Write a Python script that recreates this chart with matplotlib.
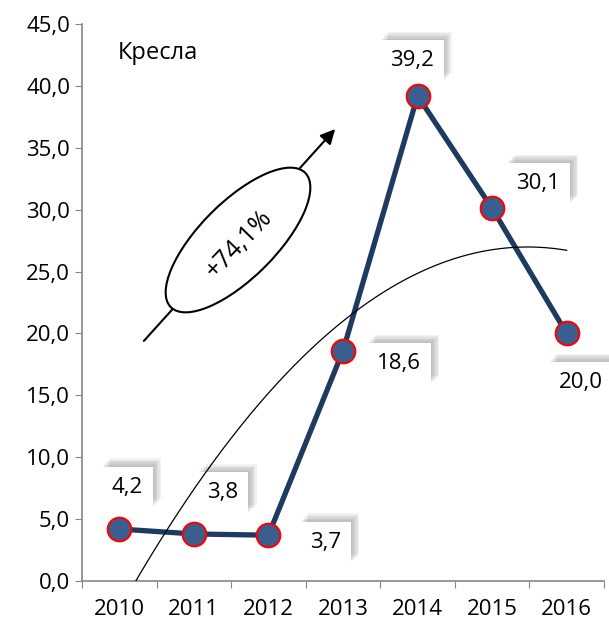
import numpy as np
import matplotlib.pyplot as plt
from matplotlib.patches import Ellipse
from matplotlib.transforms import Affine2D
import matplotlib.patheffects as pe

plt.rcParams['font.family'] = ['Open Sans', 'DejaVu Sans']

years = ['2010', '2011', '2012', '2013', '2014', '2015', '2016']
values = [4.2, 3.8, 3.7, 18.6, 39.2, 30.1, 20.0]
labels = ['4,2', '3,8', '3,7', '18,6', '39,2', '30,1', '20,0']
# смещения подписей от маркера, пиксели (x вправо, y вверх)
label_offsets = [(8, 42), (29, 41), (57, -7), (56, -13), (-6, 35), (46, 25), (14, -49)]

W, H = 609, 626
fig = plt.figure(figsize=(W / 100, H / 100), dpi=100)
ax = fig.add_axes([82 / W, 1 - 581 / H, (604 - 82) / W, (581 - 24) / H])

x = np.arange(1, len(years) + 1)

ax.plot(x, values, color='#1F3A60', lw=3.8, zorder=3,
        marker='o', markersize=17, markerfacecolor='#3A5F8F',
        markeredgecolor='red', markeredgewidth=1.5)

# мягкая тень: несколько полупрозрачных слоёв
shadow = [pe.SimplePatchShadow(offset=(k, k), shadow_rgbFace='#707070', alpha=0.09)
          for k in (1, 2, 3, 4, 5, 6)] + [pe.Normal()]

for xi, yi, lab, off in zip(x, values, labels, label_offsets):
    t = ax.annotate(lab, (xi, yi), xytext=off, textcoords='offset pixels',
                    ha='center', va='center', fontsize=16, zorder=4,
                    bbox=dict(boxstyle='square,pad=0.45', fc='white', ec='none'))
    t.get_bbox_patch().set_path_effects(shadow)

# полиномиальный тренд 2-й степени
coef = np.polyfit(x, values, 2)
xt = np.linspace(1, 7, 200)
ax.plot(xt, np.polyval(coef, xt), color='black', lw=0.9, zorder=5)

ax.set_xlim(0.5, 7.5)
ax.set_ylim(0, 45)
ax.set_yticks(np.arange(0, 46, 5))
ax.set_yticklabels([f'{v:.1f}'.replace('.', ',') for v in np.arange(0, 46, 5)], fontsize=16)
ax.set_xticks(np.arange(0.5, 7.6, 1))
ax.set_xticklabels([])
ax.set_xticks(x, minor=True)
ax.set_xticklabels(years, minor=True, fontsize=16)
ax.tick_params(axis='x', which='minor', length=0, pad=13)
ax.tick_params(axis='both', which='major', direction='out', length=5, color='#868686')
for s in ['top', 'right']:
    ax.spines[s].set_visible(False)
for s in ['left', 'bottom']:
    ax.spines[s].set_color('#868686')
    ax.spines[s].set_linewidth(1.2)

ax.text(0.068, 0.97, 'Кресла', transform=ax.transAxes, fontsize=17, va='top', ha='left')

# стрелка и эллипс с ростом, в пикселях картинки (y сверху)
to_px = Affine2D().scale(1, -1).translate(0, H)
ax.annotate('', xy=(337, 127), xytext=(142, 343),
            xycoords=to_px, textcoords=to_px,
            arrowprops=dict(arrowstyle='-|>', color='black', lw=1.5, mutation_scale=22),
            zorder=6, annotation_clip=False)
ell = Ellipse((238, 240), 190, 76, angle=-45, transform=to_px,
              fc='white', ec='black', lw=1.5, zorder=7, clip_on=False)
fig.add_artist(ell)
fig.text(239 / W, 1 - 244 / H, '+74,1%', rotation=46, fontsize=18,
         ha='center', va='center', rotation_mode='anchor', zorder=8)

fig.savefig('out.png', dpi=100)
